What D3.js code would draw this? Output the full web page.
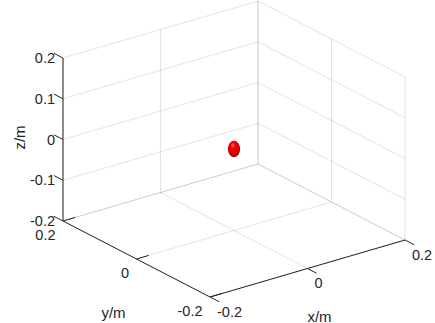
<!DOCTYPE html>
<html>
<head>
<meta charset="utf-8">
<script src="https://cdn.jsdelivr.net/npm/d3@7"></script>
<style>
  body { margin: 0; background: #fff; }
  svg { display: block; font-family: "Liberation Sans", Arial, sans-serif; }
</style>
</head>
<body>
<svg width="435" height="323"></svg>
<script>
// axis ranges and ticks
const xDomain = [-0.2, 0.2];
const yDomain = [-0.2, 0.2];
const zDomain = [-0.2, 0.2];
const xTicks = [-0.2, 0, 0.2];
const yTicks = [-0.2, 0, 0.2];
const zTicks = [-0.2, -0.1, 0, 0.1, 0.2];
const tickLabels = v => (v === 0 ? '0' : String(v));

// the ball
const ballCenter = [0, 0, 0];
const ballRadius = [0.02];

const svg = d3.select('svg');
const ink = '#262626';

// unit scales, then an oblique projection of the box
const xs = d3.scaleLinear().domain(xDomain).range([0, 1]);
const ys = d3.scaleLinear().domain(yDomain).range([0, 1]);
const zs = d3.scaleLinear().domain(zDomain).range([0, 1]);

const origin = [210, 297];      // (xmin, ymin, zmin)
const vx = [195, -57];
const vy = [-147, -76];
const vz = [0, -163];

function proj(x, y, z) {
  const a = xs(x), b = ys(y), c = zs(z);
  return [origin[0] + a * vx[0] + b * vy[0] + c * vz[0],
          origin[1] + a * vx[1] + b * vy[1] + c * vz[1]];
}

const [x0, x1] = xDomain, [y0, y1] = yDomain, [z0, z1] = zDomain;

// grid lines: floor and two back walls
const grid = [];
xTicks.forEach(x => grid.push([[x, y0, z0], [x, y1, z0]]));
yTicks.forEach(y => grid.push([[x0, y, z0], [x1, y, z0]]));
xTicks.forEach(x => grid.push([[x, y1, z0], [x, y1, z1]]));
zTicks.forEach(z => grid.push([[x0, y1, z], [x1, y1, z]]));
yTicks.forEach(y => grid.push([[x1, y, z0], [x1, y, z1]]));
zTicks.forEach(z => grid.push([[x1, y0, z], [x1, y1, z]]));

svg.append('g')
  .selectAll('line')
  .data(grid)
  .enter()
  .append('line')
  .attr('x1', d => proj(...d[0])[0])
  .attr('y1', d => proj(...d[0])[1])
  .attr('x2', d => proj(...d[1])[0])
  .attr('y2', d => proj(...d[1])[1])
  .attr('stroke', ink)
  .attr('stroke-opacity', 0.13)
  .attr('stroke-width', 1);

// axis lines
const axes = [
  [[x0, y1, z0], [x0, y1, z1]],   // z
  [[x0, y0, z0], [x0, y1, z0]],   // y
  [[x0, y0, z0], [x1, y0, z0]]    // x
];
svg.append('g')
  .selectAll('line')
  .data(axes)
  .enter()
  .append('line')
  .attr('x1', d => proj(...d[0])[0])
  .attr('y1', d => proj(...d[0])[1])
  .attr('x2', d => proj(...d[1])[0])
  .attr('y2', d => proj(...d[1])[1])
  .attr('stroke', ink)
  .attr('stroke-width', 1);

// ticks
const tickLen = 0.025;
const ticks = [];
zTicks.forEach(z => ticks.push([[x0, y1, z], [x0, y1 + tickLen, z]]));
yTicks.forEach(y => ticks.push([[x0, y, z0], [x0 + tickLen, y, z0]]));
xTicks.forEach(x => ticks.push([[x, y0, z0], [x, y0 - tickLen, z0]]));
svg.append('g')
  .selectAll('line')
  .data(ticks)
  .enter()
  .append('line')
  .attr('x1', d => proj(...d[0])[0])
  .attr('y1', d => proj(...d[0])[1])
  .attr('x2', d => proj(...d[1])[0])
  .attr('y2', d => proj(...d[1])[1])
  .attr('stroke', ink)
  .attr('stroke-width', 1);

// tick labels
const labels = svg.append('g')
  .attr('font-size', '14.5px')
  .attr('fill', ink);

labels.selectAll('.zt')
  .data(zTicks)
  .enter()
  .append('text')
  .attr('x', d => proj(x0, y1, d)[0] - 8)
  .attr('y', d => proj(x0, y1, d)[1] + 5)
  .attr('text-anchor', 'end')
  .text(tickLabels);

labels.selectAll('.yt')
  .data(yTicks)
  .enter()
  .append('text')
  .attr('x', d => proj(x0, d, z0)[0] - 7.5)
  .attr('y', d => proj(x0, d, z0)[1] + 19)
  .attr('text-anchor', 'end')
  .text(tickLabels);

labels.selectAll('.xt')
  .data(xTicks)
  .enter()
  .append('text')
  .attr('x', d => proj(d, y0, z0)[0] + 7)
  .attr('y', d => proj(d, y0, z0)[1] + 19.5)
  .attr('text-anchor', 'start')
  .text(tickLabels);

// axis titles
const titles = svg.append('g')
  .attr('font-size', '15px')
  .attr('fill', ink)
  .attr('text-anchor', 'middle');

const xm = proj(0, y0, z0);
titles.append('text').attr('x', xm[0] + 12).attr('y', xm[1] + 53).text('x/m');
const ym = proj(x0, 0, z0);
titles.append('text').attr('x', ym[0] - 23).attr('y', ym[1] + 59).text('y/m');
const zm = proj(x0, y1, 0);
titles.append('text')
  .attr('transform', `translate(${zm[0] - 38},${zm[1] - 2}) rotate(-90)`)
  .text('z/m');

// ball
const grad = svg.append('defs').append('radialGradient')
  .attr('id', 'ball')
  .attr('cx', '45%').attr('cy', '40%').attr('r', '60%')
  .attr('fx', '40%').attr('fy', '25%');
grad.append('stop').attr('offset', '0%').attr('stop-color', '#ff6a6a');
grad.append('stop').attr('offset', '30%').attr('stop-color', '#ff0000');
grad.append('stop').attr('offset', '75%').attr('stop-color', '#d20000');
grad.append('stop').attr('offset', '100%').attr('stop-color', '#8a0000');

const c = proj(...ballCenter);
const r = ballRadius[0];
const ry = Math.abs(proj(0, 0, r)[1] - proj(0, 0, 0)[1]);
const rx = ry * 0.75;
svg.append('ellipse')
  .attr('cx', c[0])
  .attr('cy', c[1])
  .attr('rx', rx)
  .attr('ry', ry)
  .attr('fill', 'url(#ball)');
</script>
</body>
</html>
